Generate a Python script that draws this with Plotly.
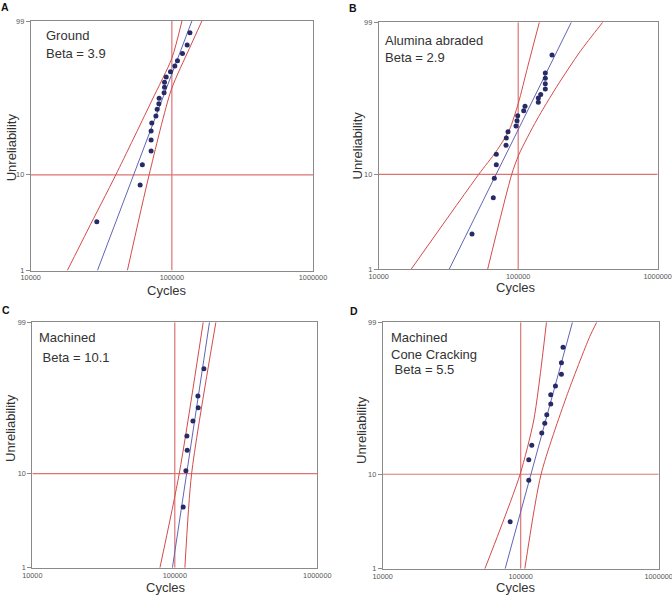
import numpy as np
import plotly.graph_objects as go

# ---------------- data ----------------
FIT_UNREL = [1, 99]

# Panel A - Ground
A_CYCLES = [29400, 59600, 61800, 71300, 71300, 71300, 72100, 77100, 78700, 80900, 81300,
            88100, 88700, 88700, 91200, 97800, 105000, 109600, 118900, 128400, 134300]
A_UNREL = [3.27, 7.88, 12.6, 17.2, 21.9, 26.6, 31.3, 36.0, 40.9, 45.3, 49.8,
           54.7, 59.5, 64.0, 68.8, 73.5, 78.2, 82.4, 87.5, 92.2, 96.8]
A_FIT_CYCLES = [29700, 138700]
A_LO_CYCLES = [18180, 25350, 40090, 72440, 100000, 117900]
A_LO_UNREL = [1, 2.68, 10, 48.4, 84.2, 99]
A_HI_CYCLES = [48420, 69040, 98900, 133300, 163300]
A_HI_UNREL = [1, 10, 57.1, 90.5, 99]

# Panel B - Alumina abraded
B_CYCLES = [46650, 66300, 67430, 69660, 69660, 81770, 82180, 84520, 96430, 98040, 99170,
            109500, 111900, 139400, 139400, 145000, 156400, 156400, 156400, 156400, 174700]
B_UNREL = [2.37, 5.74, 9.12, 12.54, 15.93, 19.51, 22.90, 26.22, 29.56, 32.96, 36.41,
           40.10, 43.54, 46.81, 50.47, 53.45, 58.45, 63.28, 68.21, 72.94, 87.05]
B_FIT_CYCLES = [32080, 240200]
B_LO_CYCLES = [17130, 52110, 69330, 86340, 100200, 117000, 141700]
B_LO_UNREL = [1, 10, 16.90, 27.19, 45.99, 78.31, 99]
B_HI_CYCLES = [60440, 89830, 100800, 135700, 188800, 277300, 403500]
B_HI_UNREL = [1, 10, 15.68, 33.42, 60.55, 89.13, 99]

# Panel C - Machined
C_CYCLES = [114500, 119600, 122200, 121600, 134000, 145900, 145200, 160000]
C_UNREL = [4.48, 10.72, 17.20, 23.63, 32.44, 42.10, 51.89, 76.45]
C_FIT_CYCLES = [96200, 175100]
C_LO_CYCLES = [78620, 107400, 158200]
C_LO_UNREL = [1, 10, 99]
C_HI_CYCLES = [117700, 131200, 194200]
C_HI_UNREL = [1, 10, 99]

# Panel D - Machined, cone cracking
D_CYCLES = [83820, 114400, 114400, 120300, 142100, 149400, 154500, 165100, 165100,
            178600, 197300, 197300, 202700]
D_UNREL = [3.19, 8.67, 14.04, 19.47, 25.47, 31.21, 37.07, 45.36, 53.30,
           61.14, 71.76, 81.49, 91.57]
D_FIT_CYCLES = [77120, 237100]
D_LO_CYCLES = [54980, 70630, 99010, 124400, 153700]
D_LO_UNREL = [1, 2.60, 10, 33.37, 99]
D_HI_CYCLES = [107100, 140500, 214500, 316200, 355400]
D_HI_UNREL = [1, 10, 51.54, 96.0, 99]

REF_CYCLES = 100000
REF_UNREL = 10
X_TICKS = [10000, 100000, 1000000]
X_TICK_LABELS = ["10000", "100000", "1000000"]
Y_TICKS = [1, 10, 99]
Y_TICK_LABELS = ["1", "10", "99"]

LETTERS = ["A", "B", "C", "D"]
LABELS = [["Ground", "Beta = 3.9"],
          ["Alumina abraded", "Beta = 2.9"],
          ["Machined", " Beta = 10.1"],
          ["Machined", "Cone Cracking", " Beta = 5.5"]]

# ---------------- helpers ----------------
W, H = 672, 595


def weib(p):
    p = np.asarray(p, dtype=float) / 100.0
    return np.log(-np.log(1.0 - p))


FONT = "Arial, Liberation Sans, sans-serif"
RED = "#d44a4a"
REFRED = "#dd7474"
BLUE = "#6264b4"
DOT = "#262a66"
GRID = "#8a8a8a"

# plot areas in pixels: (left, right, top, bottom)
AREAS = [(30.7, 313.0, 21.0, 270.5),
         (378.7, 657.7, 22.3, 269.0),
         (32.3, 317.3, 322.3, 567.8),
         (382.7, 658.7, 322.3, 568.8)]

panels = [
    (A_CYCLES, A_UNREL, A_FIT_CYCLES, A_LO_CYCLES, A_LO_UNREL, A_HI_CYCLES, A_HI_UNREL),
    (B_CYCLES, B_UNREL, B_FIT_CYCLES, B_LO_CYCLES, B_LO_UNREL, B_HI_CYCLES, B_HI_UNREL),
    (C_CYCLES, C_UNREL, C_FIT_CYCLES, C_LO_CYCLES, C_LO_UNREL, C_HI_CYCLES, C_HI_UNREL),
    (D_CYCLES, D_UNREL, D_FIT_CYCLES, D_LO_CYCLES, D_LO_UNREL, D_HI_CYCLES, D_HI_UNREL),
]

fig = go.Figure()
layout = dict(width=W, height=H,
              margin=dict(l=0, r=0, t=0, b=0, pad=0, autoexpand=False),
              autosize=False,
              paper_bgcolor="white", plot_bgcolor="white", showlegend=False,
              font=dict(family=FONT, color="#333333"))

ymin, ymax = float(weib(1)), float(weib(99))

for i, (cyc, unr, fitc, loc, lou, hic, hiu) in enumerate(panels):
    n = "" if i == 0 else str(i + 1)
    xa, ya = "x" + n, "y" + n
    l, r, t, b = AREAS[i]
    layout["xaxis" + n] = dict(
        type="log", range=[4, 6], domain=[l / W, r / W], anchor=ya, automargin=False,
        tickvals=X_TICKS, ticktext=X_TICK_LABELS, ticks="", showgrid=False,
        zeroline=False, showline=True, linecolor=GRID, linewidth=1, mirror=True,
        ticklabeloverflow="allow",
        tickfont=dict(size=7.3, color="#555555", family=FONT))
    layout["yaxis" + n] = dict(
        range=[ymin, ymax], domain=[1 - b / H, 1 - t / H], anchor=xa, automargin=False,
        tickvals=weib(Y_TICKS).tolist(), ticktext=Y_TICK_LABELS, ticks="outside",
        ticklen=4, tickcolor=GRID, showgrid=False, zeroline=False, showline=True,
        linecolor=GRID, linewidth=1, mirror=True, ticklabeloverflow="allow",
        tickfont=dict(size=7.3, color="#555555", family=FONT))

    # reference lines
    fig.add_trace(go.Scatter(x=[REF_CYCLES, REF_CYCLES], y=[ymin, ymax], mode="lines",
                             line=dict(color=REFRED, width=1.2), xaxis=xa, yaxis=ya,
                             hoverinfo="skip"))
    fig.add_trace(go.Scatter(x=[X_TICKS[0], X_TICKS[-1]], y=weib([REF_UNREL, REF_UNREL]),
                             mode="lines", line=dict(color=REFRED, width=1.2),
                             xaxis=xa, yaxis=ya, hoverinfo="skip"))
    # confidence bounds
    fig.add_trace(go.Scatter(x=loc, y=weib(lou), mode="lines",
                             line=dict(color=RED, width=1, shape="spline", smoothing=0.7),
                             xaxis=xa, yaxis=ya))
    fig.add_trace(go.Scatter(x=hic, y=weib(hiu), mode="lines",
                             line=dict(color=RED, width=1, shape="spline", smoothing=0.7),
                             xaxis=xa, yaxis=ya))
    # fit line
    fig.add_trace(go.Scatter(x=fitc, y=weib(FIT_UNREL), mode="lines",
                             line=dict(color=BLUE, width=1), xaxis=xa, yaxis=ya))
    # data points
    fig.add_trace(go.Scatter(x=cyc, y=weib(unr), mode="markers",
                             marker=dict(color=DOT, size=5), xaxis=xa, yaxis=ya,
                             cliponaxis=False))

fig.update_layout(**layout)

ann = []


def px(x, y, text, size=13, bold=False, angle=0, xanchor="center"):
    ann.append(dict(x=x / W, y=1 - y / H, xref="paper", yref="paper", text=text,
                    showarrow=False, xanchor=xanchor, yanchor="middle", textangle=angle,
                    font=dict(size=size, family=FONT,
                              color="#111111" if bold else "#333333"),
                    borderpad=0, borderwidth=0))


# panel letters
for letter, (x, y) in zip(LETTERS, [(4.5, 7.3), (353.3, 8.3), (6.3, 310), (354.3, 311.3)]):
    px(x, y, "<b>%s</b>" % letter, size=10.5, bold=True)

# axis titles
for (x, y) in [(167.3, 290), (516.3, 287.5), (165.7, 587.3), (516.3, 587.3)]:
    px(x, y, "Cycles", size=13)
for (x, y) in [(11, 147.3), (357.7, 145.7), (10.7, 428.3), (361, 430)]:
    px(x, y, "Unreliability", size=13, angle=-90)

# in-plot labels
LABEL_POS = [[(46, 35.7), (46, 53.3)],
             [(385.3, 40.3), (385.3, 57.3)],
             [(39, 337.7), (39, 357.3)],
             [(391, 337.3), (391, 354), (391, 369)]]
for texts, poss in zip(LABELS, LABEL_POS):
    for txt, (x, y) in zip(texts, poss):
        px(x, y, txt.replace(" ", "&nbsp;", 1) if txt.startswith(" ") else txt,
           size=13, xanchor="left")

fig.update_layout(annotations=ann)
fig.write_html("out.html",
               config={"displayModeBar": False, "staticPlot": True},
               post_script="document.body.style.margin='0';"
                           "document.body.style.overflow='hidden';")
